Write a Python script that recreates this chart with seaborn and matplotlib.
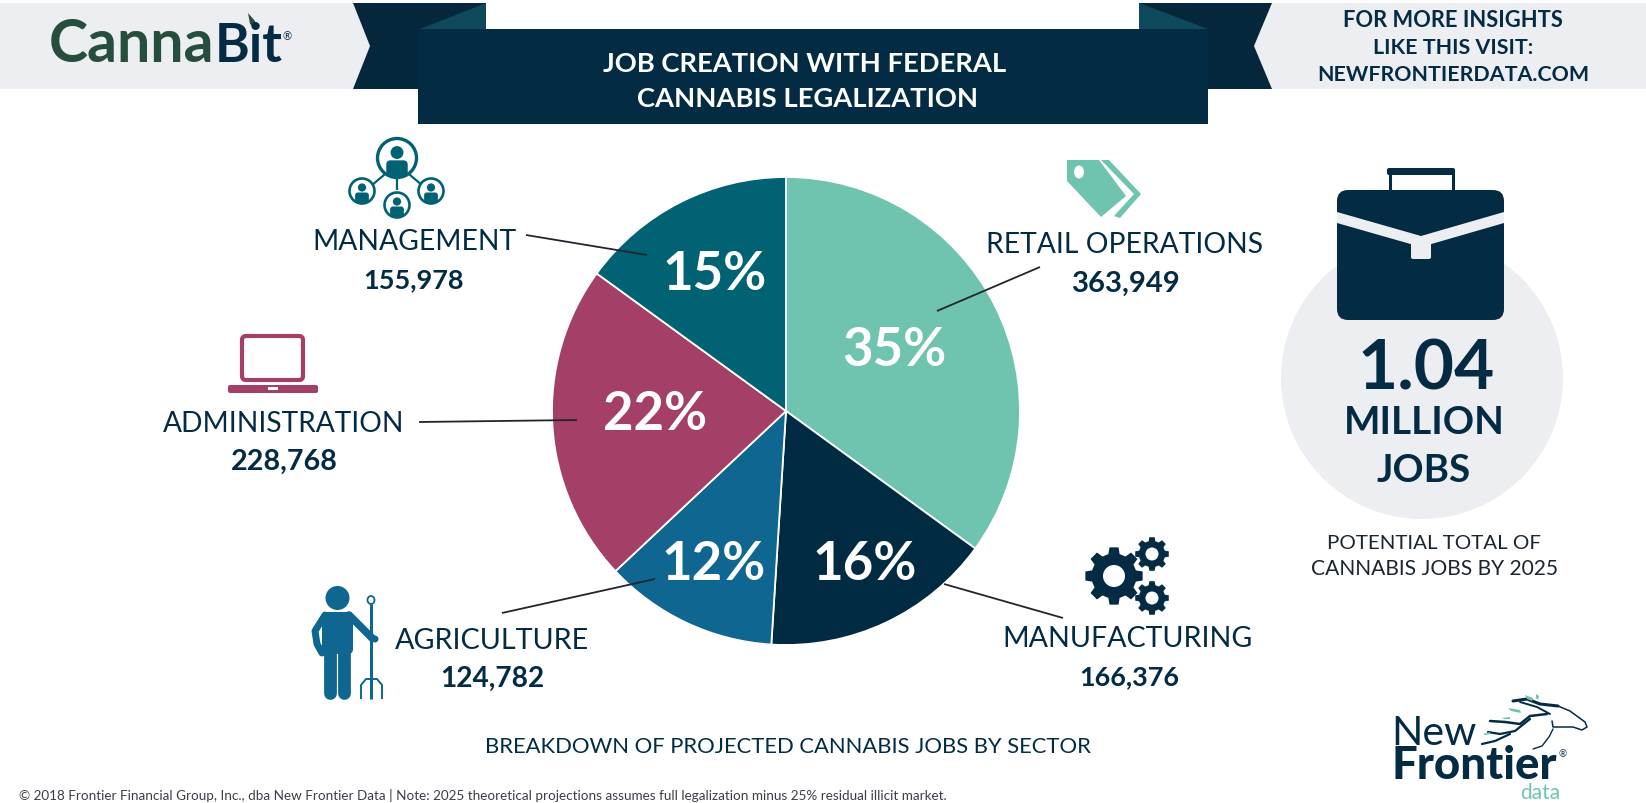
import numpy as np
import matplotlib
matplotlib.use("Agg")
import matplotlib.pyplot as plt
from matplotlib.patches import Polygon, Circle, Ellipse, FancyBboxPatch, Rectangle
import seaborn as sns

# ---- data ----
sectors = ["RETAIL OPERATIONS", "MANUFACTURING", "AGRICULTURE", "ADMINISTRATION", "MANAGEMENT"]
jobs = [363949, 166376, 124782, 228768, 155978]
sector_colors = ["#6EC4AE", "#012A43", "#0F6690", "#A43F67", "#006272"]
title_lines = ["JOB CREATION WITH FEDERAL", "CANNABIS LEGALIZATION"]
visit_lines = ["FOR MORE INSIGHTS", "LIKE THIS VISIT:", "NEWFRONTIERDATA.COM"]
total_lines = ["1.04", "MILLION", "JOBS"]
caption_lines = ["POTENTIAL TOTAL OF", "CANNABIS JOBS BY 2025"]
subtitle = "BREAKDOWN OF PROJECTED CANNABIS JOBS BY SECTOR"
footer = ("\u00a9 2018 Frontier Financial Group, Inc., dba New Frontier Data | Note: 2025 theoretical "
          "projections assumes full legalization minus 25% residual illicit market.")

NAVY = "#032B44"
DARK = "#04273B"
FOLD = "#0E4A5C"
GRAY = "#ECEEF1"
GREEN = "#264E3E"
W, H = 1646, 804

sns.set_theme(style="white")
plt.rcParams["font.family"] = ["Lato", "DejaVu Sans"]
palette = sns.color_palette(sector_colors)

fig = plt.figure(figsize=(W / 100, H / 100), dpi=100, facecolor="white")

# pie axes
cx, cy, R = 786, 412, 234
ax_pie = fig.add_axes([(cx - R) / W, (H - cy - R) / H, 2 * R / W, 2 * R / H], zorder=1)
wedges, _, autotexts = ax_pie.pie(
    jobs, colors=palette, startangle=90, counterclock=False, radius=1,
    autopct=lambda p: f"{round(p)}%",
    wedgeprops=dict(edgecolor="white", linewidth=1.3),
    textprops=dict(color="white", fontsize=38, fontweight="bold"),
)
ax_pie.set_xlim(-1, 1)
ax_pie.set_ylim(-1, 1)
pct_pixels = [(894, 366), (865, 580), (714, 580), (655, 430), (715, 290)]
for t, (px, py) in zip(autotexts, pct_pixels):
    t.set_position(((px - cx) / R, (cy - py) / R))
    t.set_ha("center")
    t.set_va("baseline")

# overlay axes in pixel coordinates
ax = fig.add_axes([0, 0, 1, 1], zorder=2)
ax.set_xlim(0, W)
ax.set_ylim(H, 0)
ax.axis("off")
ax.patch.set_alpha(0)


def label(x, base, s, width=None, size=20, color=NAVY, weight="normal", ha="center"):
    t = ax.text(x, base, s, ha=ha, va="baseline", fontsize=size, color=color, fontweight=weight)
    if width is not None:
        r = fig.canvas.get_renderer()
        w = t.get_window_extent(r).width
        t.set_fontsize(size * width / w)
    return t


def poly(pts, color, z=1):
    ax.add_patch(Polygon(pts, closed=True, fc=color, ec="none", zorder=z))


def line(pts, color, lw=1.3, z=3, cap="butt"):
    xs, ys = zip(*pts)
    ax.plot(xs, ys, color=color, lw=lw, solid_capstyle=cap, solid_joinstyle="round", zorder=z)


# header ribbon
poly([(0, 4), (353, 4), (370, 47), (353, 90), (0, 90)], GRAY)
poly([(1272, 4), (W, 4), (W, 90), (1272, 90), (1254, 47)], GRAY)
poly([(353, 4), (486, 4), (486, 30), (418, 30), (418, 90), (353, 90), (370, 47)], DARK)
poly([(1139, 4), (1272, 4), (1254, 47), (1272, 90), (1208, 90), (1208, 30), (1139, 30)], DARK)
poly([(420, 30), (486, 4), (486, 30)], FOLD, 2)
poly([(1139, 4), (1208, 30), (1139, 30)], FOLD, 2)
poly([(418, 30), (1208, 30), (1208, 125), (418, 125)], NAVY, 2)

label(805, 72, title_lines[0], width=403, color="white", weight="bold").set_zorder(4)
label(808, 107, title_lines[1], width=340, color="white", weight="bold").set_zorder(4)
for s, b, w_ in zip(visit_lines, [27, 54, 81], [219, 160, 271]):
    label(1453, b, s, width=w_, weight="bold")

# CannaBit logo
label(49, 62, "Canna", width=165, color=GREEN, weight="bold", ha="left")
label(215, 62, "Bit", width=68, color=NAVY, weight="bold", ha="left")
label(287, 40, "\u00ae", size=8, color=NAVY, ha="center")
poly([(248, 14), (255, 22), (256, 30), (250, 25)], GREEN)

# leader lines
for pts in [[(937, 312), (1040, 268)], [(944, 585), (1063, 619)], [(502, 614), (655, 580)],
            [(419, 423), (577, 421)], [(526, 236), (647, 256)]]:
    line(pts, "#23252E", 1.3)

# sector labels
name_pos = [(1125, 253, 275), (1128, 647, 249), (492, 649, 194), (284, 432, 240), (414, 250, 203)]
num_pos = [(1125, 292, 108), (1129, 685, 100), (492, 687, 104), (284, 470, 106), (414, 288, 101)]
for s, v, (nx, nb, nw), (vx, vb, vw) in zip(sectors, jobs, name_pos, num_pos):
    label(nx, nb, s, width=nw)
    label(vx, vb, f"{v:,}", width=vw, weight="bold")

label(788, 753, subtitle, width=607)
label(19, 800, footer, width=922, color="#3A3F47", ha="left")

# total block
ax.add_patch(Circle((1422, 379), 141, fc=GRAY, ec="none", zorder=1))
ax.add_patch(FancyBboxPatch((1337, 191), 167, 130, boxstyle="round,pad=0,rounding_size=11",
                            fc=NAVY, ec="none", zorder=2))
poly([(1337, 213), (1421, 237), (1504, 213), (1504, 224), (1421, 248), (1337, 224)], GRAY, 3)
ax.add_patch(FancyBboxPatch((1411, 240), 20, 20, boxstyle="round,pad=0,rounding_size=2",
                            fc=GRAY, ec="none", zorder=3))
line([(1390, 191), (1390, 173), (1453, 173), (1453, 191)], NAVY, 2.2, 2)
ax.add_patch(FancyBboxPatch((1387, 169), 68, 7, boxstyle="round,pad=0,rounding_size=2", fc=NAVY, ec="none", zorder=2))
label(1426, 390, total_lines[0], width=138, weight="bold").set_zorder(4)
label(1424, 434, total_lines[1], width=160, weight="bold").set_zorder(4)
label(1424, 482, total_lines[2], width=94, weight="bold").set_zorder(4)
label(1434, 549, caption_lines[0], width=213, color="#1B2530")
label(1435, 575, caption_lines[1], width=247, color="#1B2530")


# icons
def person(x, y, r, color, clip):
    head = Circle((x, y - 0.28 * r), 0.33 * r, fc=color, ec="none", zorder=4)
    body = FancyBboxPatch((x - 0.55 * r, y + 0.12 * r), 1.1 * r, 1.0 * r,
                          boxstyle=f"round,pad=0,rounding_size={0.22 * r}",
                          fc=color, ec="none", zorder=4)
    ax.add_patch(head)
    ax.add_patch(body)
    body.set_clip_path(clip)


TEAL = sector_colors[4]
for a, b in [((397, 165), (365, 192)), ((397, 165), (429, 192)), ((397, 180), (397, 191))]:
    line([a, b], TEAL, 1.6, 2)
for x, y, r, lw in [(397, 159, 19.5, 2.4), (362, 192, 12.5, 1.9), (431, 192, 12.5, 1.9), (397, 206, 12.5, 1.9)]:
    ring = Circle((x, y), r, fc="white", ec=TEAL, lw=lw, zorder=3)
    ax.add_patch(ring)
    person(x, y, r, TEAL, ring)

ROSE = sector_colors[3]
ax.add_patch(FancyBboxPatch((242, 337), 61, 44, boxstyle="round,pad=0,rounding_size=4",
                            fc="white", ec=ROSE, lw=3, zorder=3))
ax.add_patch(FancyBboxPatch((228, 386), 90, 8, boxstyle="round,pad=0,rounding_size=2", fc=ROSE, ec="none", zorder=3))
ax.add_patch(Rectangle((268, 388), 10, 3, fc="white", ec="none", zorder=4))

MINT = sector_colors[0]
poly([(1067, 161), (1099, 161), (1126, 197), (1101, 218), (1067, 182)], MINT, 3)
ax.add_patch(Ellipse((1079, 173), 10, 13, fc="white", ec="none", zorder=4))
poly([(1101, 161), (1109, 161), (1141, 195), (1120, 219), (1114, 217), (1134, 195)], MINT, 3)


def gear(x, y, r, hole, teeth=8):
    pts = []
    for i in range(teeth):
        base = 2 * np.pi * i / teeth
        step = 2 * np.pi / teeth
        for frac, rad in [(-0.32, 0.78), (-0.2, 1.0), (0.2, 1.0), (0.32, 0.78)]:
            a = base + frac * step
            pts.append((x + rad * r * np.cos(a), y + rad * r * np.sin(a)))
    poly(pts, NAVY, 3)
    ax.add_patch(Circle((x, y), hole, fc="white", ec="none", zorder=4))


gear(1114, 577, 29, 11)
gear(1152, 555, 17, 6.5)
gear(1152, 599, 17, 6.5)

BLUE = sector_colors[2]
ax.add_patch(Circle((337.5, 599), 12, fc=BLUE, ec="none", zorder=3))
ax.add_patch(FancyBboxPatch((322, 613), 31, 42, boxstyle="round,pad=0,rounding_size=5", fc=BLUE, ec="none", zorder=3))
line([(330.5, 650), (330.5, 694)], BLUE, 9.2, 3, "round")
line([(344.5, 650), (344.5, 694)], BLUE, 9.2, 3, "round")
line([(349, 616), (372, 639)], BLUE, 5.5, 3, "round")
line([(325, 616), (315, 632), (317, 645), (322, 654)], BLUE, 5, 3, "round")
ax.add_patch(Ellipse((371, 601), 7, 8, fc="white", ec=BLUE, lw=1.3, zorder=3))
line([(371, 605), (371, 700)], BLUE, 2.2, 2)
line([(361, 700), (361, 686), (366, 680), (377, 680), (382, 686), (382, 700)], BLUE, 1.4, 2)
ax.add_patch(Circle((375, 640), 3.5, fc=BLUE, ec="none", zorder=3))

# New Frontier logo
label(1391, 745, "New", width=85, color=NAVY, ha="left")
label(1392, 779, "Frontier", width=166, color=NAVY, weight="black", ha="left")
label(1563, 757, "\u00ae", size=7, color=NAVY)
label(1520, 799, "data", width=40, color=MINT, ha="left")
line([(1558, 707), (1570, 712), (1585, 723), (1587, 728), (1582, 731), (1573, 728), (1553, 728),
      (1552, 722)], NAVY, 1.1, 3, "round")
line([(1553, 730), (1549, 738), (1542, 747), (1533, 750)], NAVY, 1.0, 3, "round")
line([(1558, 707), (1540, 705), (1527, 700), (1513, 702)], NAVY, 2.2, 3, "round")
line([(1550, 715), (1537, 708), (1520, 703)], NAVY, 1.4, 3, "round")
line([(1547, 715), (1530, 717), (1520, 725), (1505, 723), (1490, 722)], NAVY, 1.8, 3, "round")
line([(1530, 720), (1515, 732), (1500, 735), (1488, 733)], NAVY, 1.6, 3, "round")
line([(1510, 735), (1495, 742), (1482, 745)], NAVY, 1.6, 3, "round")
poly([(1525, 696), (1533, 699), (1532, 702), (1527, 700)], MINT, 3)
poly([(1536, 695), (1539, 697), (1538, 701), (1536, 699)], MINT, 3)
poly([(1508, 709), (1520, 711), (1521, 714), (1511, 712)], MINT, 3)
poly([(1502, 719), (1510, 718), (1510, 720), (1504, 720)], MINT, 3)
poly([(1483, 735), (1490, 733), (1490, 735), (1485, 736)], MINT, 3)

fig.savefig("out.png", dpi=100, facecolor="white")
